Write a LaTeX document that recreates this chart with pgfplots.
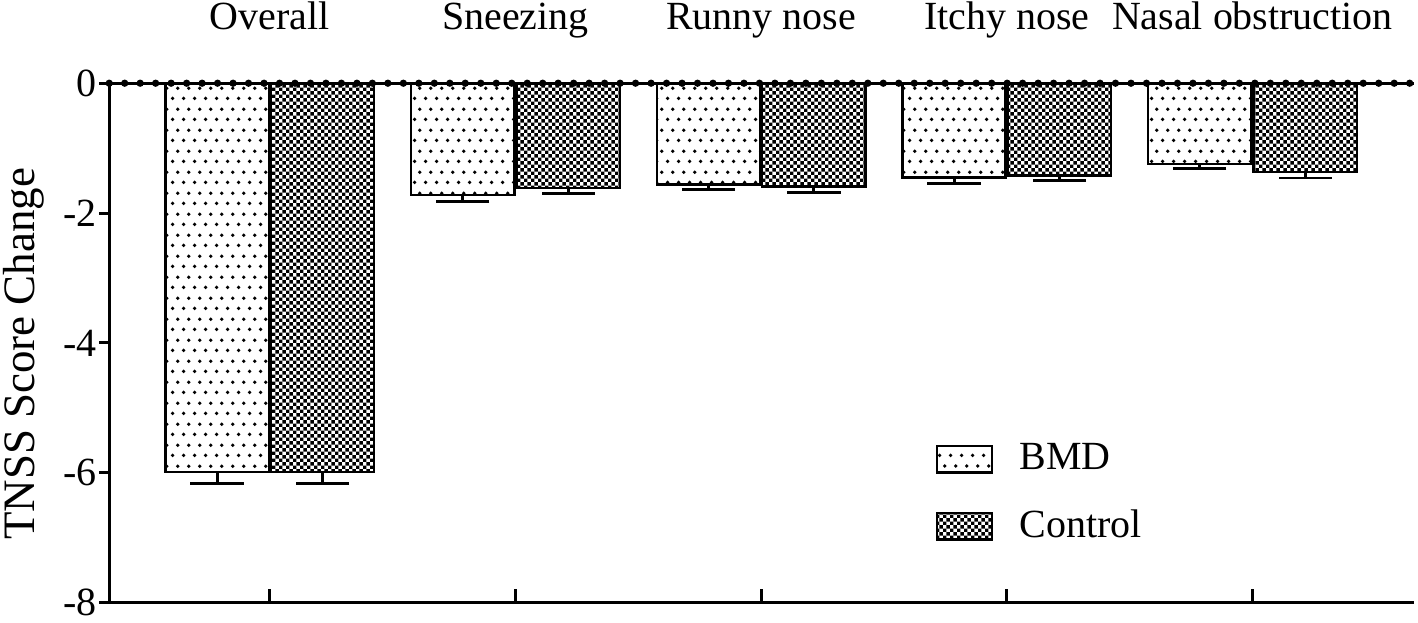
\documentclass[border=0pt]{standalone}
\usepackage{fontspec}
\setmainfont{Liberation Serif}
\usepackage{pgfplots}
\pgfplotsset{compat=1.18}
\usepackage{pgfplotstable}
\usetikzlibrary{patterns.meta}

\tikzdeclarepattern{
  name=bmddots, type=uncolored,
  bounding box={(0pt,0pt) and (3.2pt,6.2pt)},
  tile size={(3.2pt,6.2pt)},
  code={
    \fill (0.8pt,0.8pt) circle (0.58pt);
    \fill (2.4pt,3.9pt) circle (0.58pt);
  }
}
\tikzdeclarepattern{
  name=checker, type=uncolored,
  bounding box={(0pt,0pt) and (2.1pt,2.1pt)},
  tile size={(2.1pt,2.1pt)},
  code={
    \fill (0pt,0pt) rectangle (1.05pt,1.05pt);
    \fill (1.05pt,1.05pt) rectangle (2.1pt,2.1pt);
  }
}

% x  value  err
\pgfplotstableread{
x  y      e
0  -5.99  0.17
1  -1.72  0.10
2  -1.56  0.08
3  -1.45  0.09
4  -1.24  0.08
}\bmd
\pgfplotstableread{
x  y      e
0  -5.99  0.17
1  -1.61  0.09
2  -1.59  0.09
3  -1.42  0.08
4  -1.37  0.09
}\control

\begin{document}
\begin{tikzpicture}
\begin{axis}[
  scale only axis, width=392pt, height=156pt,
  xmin=-0.654, xmax=4.659, ymin=-8, ymax=0,
  ybar=0.7pt, bar width=0.42,
  axis x line*=bottom, axis y line*=left,
  axis line style={line width=0.9pt},
  xtick=\empty,
  ytick={-8,-6,-4,-2,0},
  tick align=outside, major tick length=3pt,
  tick style={line width=0.9pt, black},
  /pgf/number format/assume math mode=true,
  tick label style={font=\fontsize{12}{14}\selectfont},
  yticklabel style={inner xsep=0.6pt, inner ysep=2pt},
  ylabel={TNSS Score Change},
  ylabel style={font=\fontsize{13.5}{16}\selectfont, inner sep=0pt,
    at={(axis description cs:-0.0574,0.479)}, anchor=base},
  clip=false,
  legend style={draw=none, fill=none, at={(0.625,0.333)}, anchor=north west,
    font=\fontsize{12}{14}\selectfont, row sep=6.5pt},
  legend cell align=left,
  legend image code/.code={
    \draw[#1, line width=0.7pt] (0pt,-4pt) rectangle (16.5pt,4pt);
  },
]
\addplot[draw=black, line width=0.7pt,
  pattern=bmddots, pattern color=black,
  error bars/.cd, y dir=minus, y explicit,
  error bar style={line width=0.9pt, black},
  error mark options={rotate=90, mark size=8pt, line width=0.9pt}]
  table[x=x, y=y, y error=e] {\bmd};
\addlegendentry{\hspace{6pt}BMD}
\addplot[draw=black, line width=0.7pt,
  pattern=checker, pattern color=black,
  error bars/.cd, y dir=minus, y explicit,
  error bar style={line width=0.9pt, black},
  error mark options={rotate=90, mark size=8pt, line width=0.9pt}]
  table[x=x, y=y, y error=e] {\control};
\addlegendentry{\hspace{6pt}Control}
% zero line with dots
\addplot[sharp plot, black, line width=0.9pt, forget plot] coordinates {(-0.654,0) (4.659,0)};
\addplot[sharp plot, black, line width=2.2pt, line cap=round, dash pattern=on 0pt off 4.65pt, forget plot]
  coordinates {(-0.654,0) (4.659,0)};
% bottom ticks pointing up
\pgfplotsinvokeforeach{0,1,2,3,4}{
  \draw[line width=0.9pt] (axis cs:#1,-8) -- ++(0pt,4.2pt);
}
% category labels at top
\tikzset{catlab/.style={anchor=base, inner sep=0pt, font=\fontsize{12}{14}\selectfont}}
\node[catlab] at ([yshift=16.2pt]axis cs:0,0) {Overall};
\node[catlab] at ([yshift=16.2pt]axis cs:1,0) {Sneezing};
\node[catlab] at ([yshift=16.2pt]axis cs:2,0) {Runny nose};
\node[catlab] at ([yshift=16.2pt]axis cs:3,0) {Itchy nose};
\node[catlab] at ([yshift=16.2pt]axis cs:4,0) {Nasal obstruction};
% small white margins as in the reference
\path ([yshift=25pt]axis cs:0,0);
\path ([xshift=-32.8pt]axis cs:-0.654,-4);
\end{axis}
\end{tikzpicture}
\end{document}
